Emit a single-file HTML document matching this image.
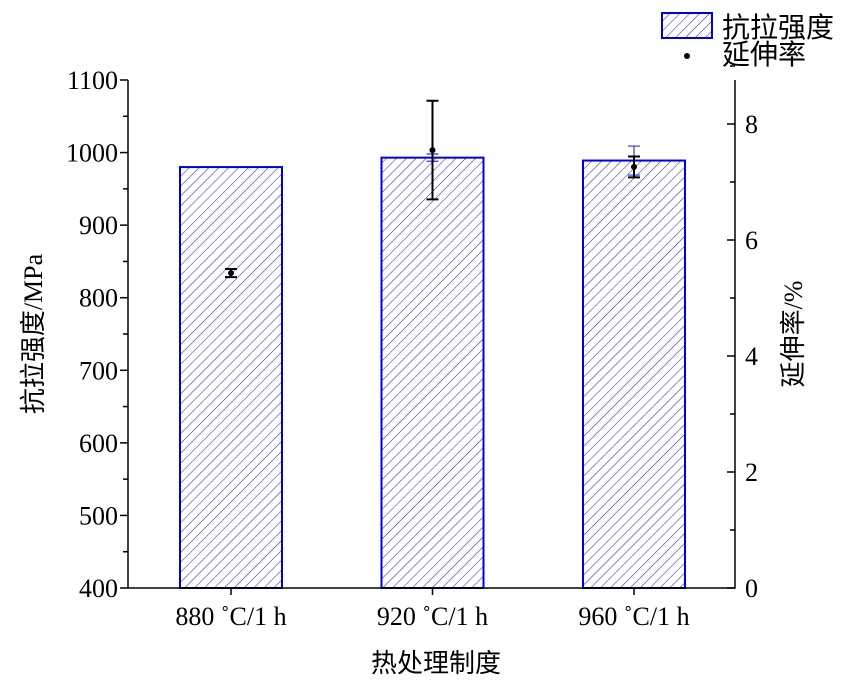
<!DOCTYPE html>
<html><head><meta charset="utf-8"><style>
body{margin:0;background:#fff}
text{font-family:"Liberation Serif","Noto Serif CJK SC","Noto Sans CJK SC",serif;fill:#000}
.cj{font-family:"Liberation Serif","Noto Sans CJK SC",sans-serif}
</style></head><body>
<svg id="c" width="859" height="686" xmlns="http://www.w3.org/2000/svg">
<defs><pattern id="h" patternUnits="userSpaceOnUse" width="7" height="7" patternTransform="rotate(45)"><line x1="0" y1="0" x2="0" y2="7" stroke="#2a2ad0" stroke-width="1.1"/></pattern></defs>
<g id="g"></g>
</svg>
<script>
const categories=["880 ˚C/1 h","920 ˚C/1 h","960 ˚C/1 h"];
const strength=[980,993,989];
const strengthErr=[0,5,20];
const elong=[5.43,7.55,7.26];
const elongErr=[0.07,0.85,0.18];
const leftTicks=[400,500,600,700,800,900,1000,1100];
const rightTicks=[0,2,4,6,8];
const L=128,R=735,B=588,T=80;
const yL=v=>B-(v-400)*(B-T)/700;
const yR=v=>B-v*58;
const xC=i=>231+i*201.5;
const NS="http://www.w3.org/2000/svg",g=document.getElementById('g');
function el(t,a,txt){const e=document.createElementNS(NS,t);for(const k in a)e.setAttribute(k,a[k]);if(txt!==undefined)e.textContent=txt;g.appendChild(e);return e;}
strength.forEach((v,i)=>{
 const b=el('rect',{x:xC(i)-51,y:yL(v),width:102,height:B-yL(v),fill:'url(#h)',stroke:'#0000dd','stroke-width':2});
 
 
 const e=strengthErr[i],x=xC(i);
 if(e>0){
 const eb=el('path',{d:`M${x},${yL(v+e)}V${yL(v-e)}M${x-6},${yL(v+e)}H${x+6}M${x-6},${yL(v-e)}H${x+6}`,stroke:'#3535c8','stroke-width':1.2,fill:'none'});
 
 
 }
});
elong.forEach((v,i)=>{
 const x=xC(i),e=elongErr[i];
 const eb=el('path',{d:`M${x},${yR(v+e)}V${yR(v-e)}M${x-6},${yR(v+e)}H${x+6}M${x-6},${yR(v-e)}H${x+6}`,stroke:'#000','stroke-width':2,fill:'none'});
 
 
 const p=el('circle',{cx:x,cy:yR(v),r:3});
 
 
});
const ax=el('path',{d:`M${L},${T}V${B}H${R}V${T}`,stroke:'#000','stroke-width':1.5,fill:'none'});


leftTicks.forEach((t,i)=>{
 el('line',{x1:L-8,x2:L,y1:yL(t),y2:yL(t),stroke:'#000','stroke-width':1.5});
 if(i<leftTicks.length-1)el('line',{x1:L-5,x2:L,y1:yL(t+50),y2:yL(t+50),stroke:'#000','stroke-width':1.5});
 const tx=el('text',{x:L-10,y:yL(t)+9,'text-anchor':'end','font-size':26},t);
 
 
});
rightTicks.forEach(t=>{
 el('line',{x1:R-8,x2:R,y1:yR(t),y2:yR(t),stroke:'#000','stroke-width':1.5});
 el('line',{x1:R-5,x2:R,y1:yR(t+1),y2:yR(t+1),stroke:'#000','stroke-width':1.5});
 const tx=el('text',{x:R+10,y:yR(t)+9,'font-size':26},t);
 
 
});
categories.forEach((c,i)=>{
 el('line',{x1:xC(i),x2:xC(i),y1:B,y2:B+7,stroke:'#000','stroke-width':1.5});
 const tx=el('text',{x:xC(i),y:B+37,'text-anchor':'middle','font-size':26},c);
 
 
});
</script>
<svg width="859" height="686" style="position:absolute;left:0;top:0" xmlns="http://www.w3.org/2000/svg">
<defs><pattern id="h2" patternUnits="userSpaceOnUse" width="7" height="7" patternTransform="rotate(45)"><line x1="0" y1="0" x2="0" y2="7" stroke="#2a2ad0" stroke-width="1.1"/></pattern></defs>
<text class="cj" x="436" y="672" text-anchor="middle" font-size="26">热处理制度</text>
<text class="cj" transform="translate(42,334) rotate(-90)" text-anchor="middle" font-size="26">抗拉强度/MPa</text>
<text class="cj" transform="translate(802,334) rotate(-90)" text-anchor="middle" font-size="26">延伸率/%</text>
<rect x="662" y="13" width="50" height="25" fill="url(#h2)" stroke="#0000dd" stroke-width="2"/>
<text class="cj" x="722" y="37" font-size="28">抗拉强度</text>
<circle cx="687" cy="56" r="3"/>
<text class="cj" x="722" y="64" font-size="28">延伸率</text>
</svg>
</body></html>
